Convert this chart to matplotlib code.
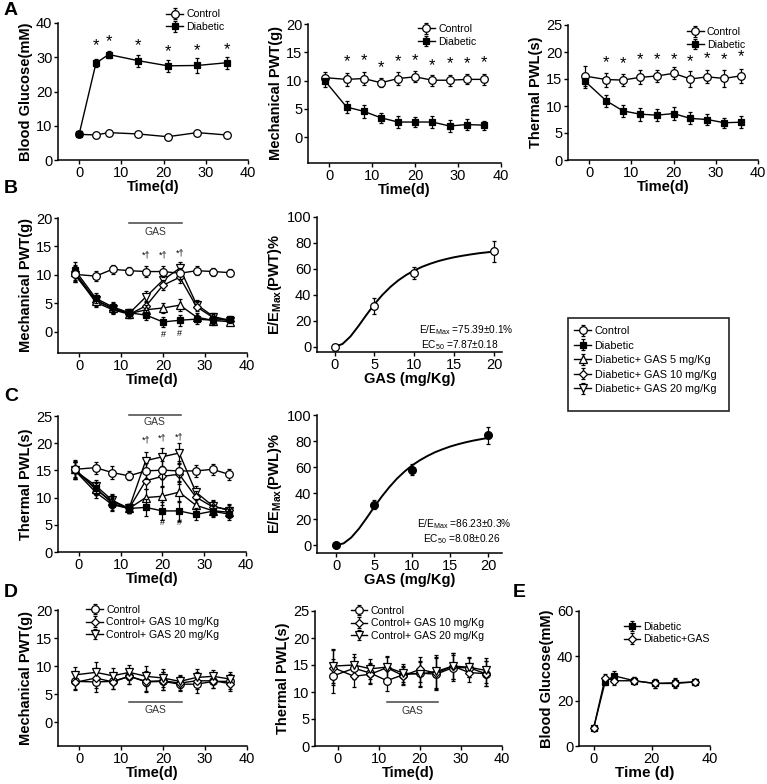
import matplotlib
matplotlib.use("Agg")
import matplotlib.pyplot as plt
from matplotlib.patches import Rectangle

plt.rcParams['font.family'] = ['Liberation Sans', 'DejaVu Sans']
plt.rcParams['mathtext.fontset'] = 'custom'
plt.rcParams['mathtext.rm'] = 'Liberation Sans'
plt.rcParams['mathtext.default'] = 'regular'

# ---- panel A: development of diabetes ----
a_glu_days = [0, 4, 7, 14, 21, 28, 35]
a_glu_ctrl = [7.5, 7.3, 8.0, 7.6, 6.8, 8.0, 7.3]
a_glu_ctrl_err = [0.5, 0.5, 0.5, 0.4, 0.4, 0.4, 0.4]
a_glu_diab = [7.5, 28.3, 30.8, 29.0, 27.5, 27.6, 28.4]
a_glu_diab_err = [0.6, 1.2, 1.0, 1.8, 1.8, 2.2, 1.7]
a_glu_star = [33.5, 34.6, 33.5, 31.5, 31.9, 32.2]

days = [-1, 4, 8, 12, 16, 20, 24, 28, 32, 36]
a_pwt_ctrl = [10.5, 10.2, 10.35, 9.6, 10.35, 10.65, 10.05, 10.05, 10.2, 10.2]
a_pwt_ctrl_err = [1.0, 1.1, 1.2, 0.8, 1.1, 1.0, 1.0, 1.0, 0.9, 1.0]
a_pwt_diab = [9.9, 5.3, 4.55, 3.4, 2.65, 2.65, 2.65, 1.95, 2.2, 2.1]
a_pwt_diab_err = [1.1, 1.0, 1.1, 0.9, 1.0, 0.9, 1.1, 1.0, 0.9, 0.8]
a_pwt_star = [13.4, 13.6, 12.2, 13.4, 13.6, 12.7, 13.0, 13.0, 13.2]

a_pwl_ctrl = [15.55, 14.9, 14.8, 15.3, 15.55, 16.05, 15.0, 15.4, 15.1, 15.6]
a_pwl_ctrl_err = [1.8, 1.3, 1.1, 1.3, 1.1, 1.1, 1.4, 1.2, 1.5, 1.3]
a_pwl_diab = [14.6, 11.0, 9.1, 8.5, 8.3, 8.6, 7.7, 7.5, 6.9, 7.0]
a_pwl_diab_err = [1.3, 1.1, 1.1, 1.2, 1.1, 1.2, 1.1, 1.1, 0.9, 1.1]
a_pwl_star = [18.1, 17.9, 18.6, 18.6, 18.6, 18.2, 18.7, 18.5, 19.1]

# ---- panel B: mechanical PWT with GAS ----
b_ctrl = [10.1, 9.8, 11.0, 10.75, 10.6, 10.6, 10.3, 10.75, 10.6, 10.4]
b_diab = [10.9, 5.9, 4.4, 3.35, 2.95, 1.75, 2.05, 2.25, 2.05, 2.25]
b_gas5 = [10.5, 5.5, 4.2, 3.2, 3.9, 4.2, 4.7, 2.6, 2.0, 1.8]
b_gas10 = [10.2, 5.2, 3.9, 3.1, 4.6, 8.2, 9.6, 4.4, 2.5, 1.9]
b_gas20 = [10.0, 5.6, 4.1, 3.3, 6.2, 9.1, 11.2, 4.8, 2.7, 2.0]
b_err = [1.3, 0.9, 0.8, 0.7, 0.9, 0.9, 1.0, 0.8, 0.7, 0.6]
b_sig_days = [16, 20, 24]
b_sig_y = [13.5, 13.5, 13.8]
b_hash_y = [-0.4, -0.2]

dose = [0, 5, 10, 20]
b_eff = [0, 31.5, 57, 73.5]
b_eff_err = [0, 6, 4.5, 8]
fit_x = list(range(21))
b_fit = [0, 2.2, 8.0, 16.0, 24.6, 32.8, 40.0, 46.1, 51.2, 55.4, 58.8,
         61.7, 64.0, 66.0, 67.6, 69.0, 70.1, 71.1, 72.0, 72.7, 73.4]

# ---- panel C: thermal PWL with GAS ----
c_ctrl = [15.2, 15.5, 14.6, 14.0, 14.9, 15.05, 14.9, 14.9, 15.2, 14.25]
c_diab = [15.0, 11.8, 8.9, 8.0, 8.2, 7.55, 7.55, 6.9, 7.5, 6.95]
c_gas5 = [15.3, 11.5, 9.3, 8.0, 10.0, 10.25, 11.0, 8.6, 7.6, 7.3]
c_gas10 = [15.0, 11.0, 8.7, 8.0, 13.1, 13.9, 14.3, 10.1, 8.3, 7.8]
c_gas20 = [15.0, 12.2, 9.5, 8.0, 16.8, 17.5, 18.2, 11.0, 8.5, 7.6]
c_err = [1.6, 1.1, 1.2, 0.8, 1.5, 1.7, 1.8, 1.1, 1.0, 1.0]
c_sig_y = [20.6, 21.0, 21.1]
c_hash_y = [5.5, 5.5]

c_eff = [0, 31, 58, 84.5]
c_eff_err = [0, 3.5, 4, 6.5]
c_fit = [0, 1.4, 5.9, 12.6, 20.7, 29.2, 37.3, 44.6, 51.1, 56.6, 61.3,
         65.2, 68.5, 71.4, 73.7, 75.8, 77.5, 79.0, 80.3, 81.4, 82.4]

# ---- panel D: control animals with GAS ----
d_pwt_ctrl = [7.3, 7.2, 7.3, 8.2, 7.2, 7.3, 6.8, 6.8, 7.3, 7.3]
d_pwt_gas10 = [7.1, 7.9, 7.2, 8.2, 7.3, 7.4, 7.0, 7.4, 7.4, 6.9]
d_pwt_gas20 = [8.45, 8.9, 8.3, 8.9, 8.2, 7.9, 7.3, 8.0, 8.2, 7.7]
d_pwt_err = [1.4, 1.8, 1.3, 1.3, 1.8, 1.6, 1.2, 1.5, 1.2, 1.3]

d_pwl_ctrl = [13.0, 14.4, 13.5, 12.1, 13.2, 13.5, 13.3, 14.5, 14.5, 13.4]
d_pwl_gas10 = [14.5, 12.9, 13.3, 14.5, 13.0, 14.2, 13.5, 14.8, 13.6, 13.4]
d_pwl_gas20 = [14.8, 15.0, 14.3, 14.6, 13.5, 13.3, 13.8, 14.8, 14.6, 14.0]
d_pwl_err = [3.2, 2.0, 1.8, 2.0, 1.7, 2.3, 3.0, 2.4, 1.8, 2.3]

# ---- panel E ----
e_days = [0, 4, 7, 14, 21, 28, 35]
e_diab = [7.8, 28.6, 31.2, 29.0, 27.8, 27.8, 28.5]
e_gas = [7.8, 30.4, 29.0, 29.0, 27.8, 28.1, 28.5]
e_err = [0.8, 1.5, 2.0, 1.5, 2.0, 2.0, 1.5]

W, H = 767, 784
fig = plt.figure(figsize=(W / 100, H / 100), dpi=100)


def add_ax(l, r, t, b):
    return fig.add_axes([l / W, 1 - b / H, (r - l) / W, (b - t) / H])


def style(ax, xlim, ylim, xticks, yticks):
    for s in ['top', 'right']:
        ax.spines[s].set_visible(False)
    for s in ['left', 'bottom']:
        ax.spines[s].set_linewidth(1.1)
    ax.set_xlim(*xlim)
    ax.set_ylim(*ylim)
    ax.set_xticks(xticks)
    ax.set_yticks(yticks)
    ax.tick_params(direction='out', length=3, width=1, labelsize=10.5, pad=1)


MK = {'ctrl': ('o', 'white', 5.5), 'diab': ('s', 'black', 5),
      'gas5': ('^', 'white', 5.5), 'gas10': ('D', 'white', 4.5),
      'gas20': ('v', 'white', 5.5)}


def series(ax, x, y, err, kind, label=None, z=3):
    m, fc, ms = MK[kind]
    ax.errorbar(x, y, yerr=err, fmt='-', color='black', lw=1, elinewidth=0.9,
                capsize=1.5, capthick=0.9, marker=m, mfc=fc, mec='black',
                mew=0.9, ms=ms, label=label, zorder=z)


def ylab(ax, text, pad=2):
    ax.set_ylabel(text, fontsize=10.5, fontweight='bold', labelpad=pad)


def xlab(ax, text, pad=0, size=10.5):
    ax.set_xlabel(text, fontsize=size, fontweight='bold', labelpad=pad)


def small_legend(ax, x, y, fs=7.6):
    ax.legend(loc='upper left', bbox_to_anchor=(x, y), frameon=False, fontsize=fs,
              handlelength=1.6, handletextpad=0.3, labelspacing=0.25,
              borderpad=0, borderaxespad=0)


def gas_bar(ax, ybar, ytext):
    ax.plot([12, 24.5], [ybar, ybar], color='#444444', lw=1.1, clip_on=False)
    ax.text(18.2, ytext, 'GAS', ha='center', va='center', fontsize=7.5, color='#333333')


t_ticks = [0, 10, 20, 30, 40]

# A1
ax = add_ax(58, 248, 23, 160)
style(ax, (-5, 40), (0, 40), t_ticks, [0, 10, 20, 30, 40])
series(ax, a_glu_days, a_glu_ctrl, a_glu_ctrl_err, 'ctrl', 'Control')
series(ax, a_glu_days, a_glu_diab, a_glu_diab_err, 'diab', 'Diabetic')
for d, s in zip(a_glu_days[1:], a_glu_star):
    ax.text(d, s, '*', ha='center', va='center', fontsize=12)
ylab(ax, 'Blood Glucose(mM)')
xlab(ax, 'Time(d)')
small_legend(ax, 0.57, 1.1)

# A2
ax = add_ax(308, 501, 24, 163)
style(ax, (-5, 40), (-4.6, 20), t_ticks, [0, 5, 10, 15, 20])
series(ax, days, a_pwt_ctrl, a_pwt_ctrl_err, 'ctrl', 'Control')
series(ax, days, a_pwt_diab, a_pwt_diab_err, 'diab', 'Diabetic')
for d, s in zip(days[1:], a_pwt_star):
    ax.text(d, s, '*', ha='center', va='center', fontsize=12)
ylab(ax, 'Mechanical PWT(g)')
xlab(ax, 'Time(d)')
small_legend(ax, 0.57, 1.0)

# A3
ax = add_ax(568, 758, 25, 160)
style(ax, (-5, 40), (0, 25), t_ticks, [0, 5, 10, 15, 20, 25])
series(ax, days, a_pwl_ctrl, a_pwl_ctrl_err, 'ctrl', 'Control')
series(ax, days, a_pwl_diab, a_pwl_diab_err, 'diab', 'Diabetic')
for d, s in zip(days[1:], a_pwl_star):
    ax.text(d, s, '*', ha='center', va='center', fontsize=12)
ylab(ax, 'Thermal PWL(s)')
xlab(ax, 'Time(d)')
small_legend(ax, 0.625, 0.985)

# B1
ax = add_ax(58, 247, 218, 353)
style(ax, (-5, 40), (-3.7, 20), t_ticks, [0, 5, 10, 15, 20])
series(ax, days, b_gas20, b_err, 'gas20', 'Diabetic+ GAS 20 mg/Kg', 2)
series(ax, days, b_gas10, b_err, 'gas10', 'Diabetic+ GAS 10 mg/Kg', 3)
series(ax, days, b_gas5, b_err, 'gas5', 'Diabetic+ GAS 5 mg/Kg', 4)
series(ax, days, b_diab, b_err, 'diab', 'Diabetic', 5)
series(ax, days, b_ctrl, b_err, 'ctrl', 'Control', 6)
for d, s in zip(b_sig_days, b_sig_y):
    ax.text(d, s, '*\u2020', ha='center', va='center', fontsize=6.5)
for d, s in zip(b_sig_days[1:], b_hash_y):
    ax.text(d, s, '#', ha='center', va='center', fontsize=6.5)
gas_bar(ax, 19.1, 17.5)
ylab(ax, 'Mechanical PWT(g)')
xlab(ax, 'Time(d)')
handles, labels = ax.get_legend_handles_labels()

# B2
ax = add_ax(317, 502, 217, 352)
style(ax, (-2.2, 21), (-4, 100), [0, 5, 10, 15, 20], [0, 20, 40, 60, 80, 100])
ax.plot(fit_x, b_fit, color='black', lw=1.4)
ax.errorbar(dose, b_eff, yerr=b_eff_err, fmt='none', ecolor='black', elinewidth=0.9,
            capsize=1.5, capthick=0.9)
ax.plot(dose, b_eff, 'o', mfc='white', mec='black', ms=5.5, mew=0.9)
ax.text(1.06, 0.165, 'E/E$_{Max}$ =75.39\u00b10.1%', transform=ax.transAxes,
        ha='right', va='center', fontsize=7.3)
ax.text(0.98, 0.05, 'EC$_{50}$ =7.87\u00b10.18', transform=ax.transAxes,
        ha='right', va='center', fontsize=7.3)
ylab(ax, 'E/E$_{Max}$(PWT)%')
xlab(ax, 'GAS (mg/Kg)')

# main legend
fig.add_artist(Rectangle((568 / W, 1 - 411 / H), 161 / W, 93 / H, transform=fig.transFigure,
                         fill=False, edgecolor='#222222', lw=1.2))
order = [4, 3, 2, 1, 0]
fig.legend([handles[i] for i in order], [labels[i] for i in order], loc='upper left',
           bbox_to_anchor=(574 / W, 1 - 326 / H), frameon=False, fontsize=7.8,
           handlelength=1.6, handletextpad=0.3, labelspacing=0.42, borderpad=0,
           borderaxespad=0)

# C1
ax = add_ax(58, 246, 416, 552)
style(ax, (-5, 40), (0, 25), t_ticks, [0, 5, 10, 15, 20, 25])
series(ax, days, c_gas20, c_err, 'gas20', None, 2)
series(ax, days, c_gas10, c_err, 'gas10', None, 3)
series(ax, days, c_gas5, c_err, 'gas5', None, 4)
series(ax, days, c_diab, c_err, 'diab', None, 5)
series(ax, days, c_ctrl, c_err, 'ctrl', None, 6)
for d, s in zip(b_sig_days, c_sig_y):
    ax.text(d, s, '*\u2020', ha='center', va='center', fontsize=6.5)
for d, s in zip(b_sig_days[1:], c_hash_y):
    ax.text(d, s, '#', ha='center', va='center', fontsize=6.5)
gas_bar(ax, 25.2, 23.9)
ylab(ax, 'Thermal PWL(s)')
xlab(ax, 'Time(d)')

# C2
ax = add_ax(317, 502, 415, 553)
style(ax, (-2.5, 21.8), (-6, 100), [0, 5, 10, 15, 20], [0, 20, 40, 60, 80, 100])
ax.plot(fit_x, c_fit, color='black', lw=1.4)
ax.errorbar(dose, c_eff, yerr=c_eff_err, fmt='none', ecolor='black', elinewidth=0.9,
            capsize=1.5, capthick=0.9)
ax.plot(dose, c_eff, 'o', mfc='black', mec='black', ms=5.5)
ax.text(1.05, 0.21, 'E/E$_{Max}$ =86.23\u00b10.3%', transform=ax.transAxes,
        ha='right', va='center', fontsize=7.3)
ax.text(0.99, 0.1, 'EC$_{50}$ =8.08\u00b10.26', transform=ax.transAxes,
        ha='right', va='center', fontsize=7.3)
ylab(ax, 'E/E$_{Max}$(PWL)%')
xlab(ax, 'GAS (mg/Kg)')

# D1
ax = add_ax(58, 247, 610, 746)
style(ax, (-5, 40), (-4.2, 20), t_ticks, [0, 5, 10, 15, 20])
series(ax, days, d_pwt_ctrl, d_pwt_err, 'ctrl', 'Control')
series(ax, days, d_pwt_gas10, d_pwt_err, 'gas10', 'Control+ GAS 10 mg/Kg')
series(ax, days, d_pwt_gas20, d_pwt_err, 'gas20', 'Control+ GAS 20 mg/Kg')
gas_bar(ax, 3.7, 2.2)
ylab(ax, 'Mechanical PWT(g)')
xlab(ax, 'Time(d)', pad=0)
small_legend(ax, 0.15, 1.04)

# D2
ax = add_ax(315, 502, 611, 746)
style(ax, (-5.5, 40), (0, 25), t_ticks, [0, 5, 10, 15, 20, 25])
series(ax, days, d_pwl_ctrl, d_pwl_err, 'ctrl', 'Control')
series(ax, days, d_pwl_gas10, d_pwl_err, 'gas10', 'Control+ GAS 10 mg/Kg')
series(ax, days, d_pwl_gas20, d_pwl_err, 'gas20', 'Control+ GAS 20 mg/Kg')
gas_bar(ax, 8.1, 6.5)
ylab(ax, 'Thermal PWL(s)')
xlab(ax, 'Time(d)', pad=0)
small_legend(ax, 0.19, 1.04)

# E
ax = add_ax(579, 710, 611, 746)
style(ax, (-5, 40), (0, 60), [0, 20, 40], [0, 20, 40, 60])
series(ax, e_days, e_diab, e_err, 'diab', 'Diabetic')
series(ax, e_days, e_gas, e_err, 'gas10', 'Diabetic+GAS')
ylab(ax, 'Blood Glucose(mM)')
xlab(ax, 'Time (d)', pad=0, size=11)
small_legend(ax, 0.34, 0.92)

for letter, x, y in [('A', 4, 2), ('B', 4, 180), ('C', 4, 388), ('D', 4, 584), ('E', 513, 584)]:
    fig.text(x / W, 1 - y / H, letter, fontsize=14, fontweight='bold', va='top', ha='left')

fig.savefig('out.png', dpi=100)
